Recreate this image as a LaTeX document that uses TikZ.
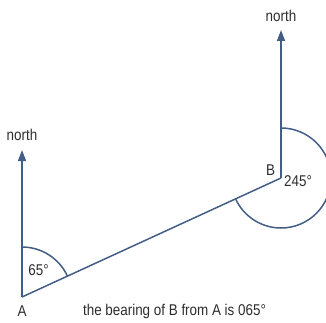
\documentclass[tikz,border=0pt]{standalone}
\usepackage{fontspec}
\setmainfont{Liberation Sans}[FakeStretch=0.86]
\usetikzlibrary{arrows.meta}
\definecolor{linec}{RGB}{66,94,132}
\definecolor{txt}{RGB}{45,45,45}
\begin{document}
\begin{tikzpicture}[x=1pt,y=1pt,
  line/.style={draw=linec,line width=1.5pt},
  northline/.style={line,-{Triangle[width=8pt,length=11pt]}},
  lbl/.style={text=txt,font=\fontsize{15.6}{17}\selectfont,inner sep=0pt}]
\useasboundingbox (0,0) rectangle (326,322);
\coordinate (A) at (22,25);
\coordinate (B) at (281,144);
\coordinate (NA) at (22,172);
\coordinate (NB) at (281,292);
\draw[northline] (A) -- (NA);
\draw[northline] (B) -- (NB);
\draw[line,line join=round] (A) -- (B);
\draw[line] ([shift={(90:50)}]A) arc[start angle=90,end angle=24.68,radius=50];
\draw[line] ([shift={(90:50)}]B) arc[start angle=90,end angle=-155.32,radius=50];
\node[lbl] (nA) at (22,187) {north};
\node[lbl] (nB) at (281,306) {north};
\node[lbl] (lA) at (22,11) {A};
\node[lbl] (lB) at (270.5,152) {B};
\node[lbl] (a65) at (38.5,52) {65°};
\node[lbl] (a245) at (298,140.5) {245°};
\node[lbl] (cap) at (174.5,10.5) {the bearing of B from A is 065°};
\end{tikzpicture}
\end{document}
